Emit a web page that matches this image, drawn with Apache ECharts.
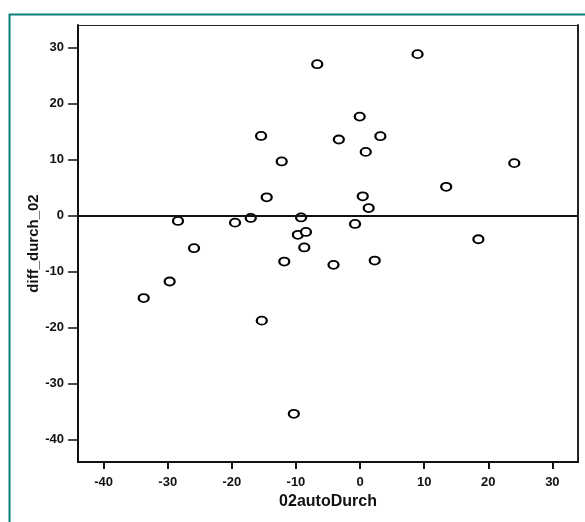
<!DOCTYPE html>
<html>
<head>
<meta charset="utf-8">
<script src="https://cdn.jsdelivr.net/npm/echarts@6/dist/echarts.min.js"></script>
<style>
html,body{margin:0;padding:0;background:#ffffff;}
#chart{width:585px;height:522px;}
</style>
</head>
<body>
<div id="chart"></div>
<script>
const autoDurch = [-33.75,-29.7,-28.4,-25.9,-19.5,-17.05,-15.44,-14.56,-15.33,-12.22,-11.82,-10.33,-9.2,-9.7,-8.44,-8.7,-6.68,-4.14,-3.31,-0.78,-0.05,0.42,0.89,1.35,2.29,3.17,8.97,13.44,18.46,24.06];
const diffDurch = [-14.74,-11.78,-0.98,-5.84,-1.28,-0.44,14.2,3.24,-18.77,9.64,-8.22,-35.4,-0.35,-3.45,-2.94,-5.7,27.0,-8.81,13.56,-1.51,17.65,3.42,11.35,1.33,-8.04,14.15,28.8,5.12,-4.24,9.34];
const xTicks = [-40,-30,-20,-10,0,10,20,30];
const yTicks = [-40,-30,-20,-10,0,10,20,30];
const xName = '02autoDurch';
const yName = 'diff_durch_02';

const points = autoDurch.map((x, i) => [x, diffDurch[i]]);
const font = 'Liberation Sans, Arial, sans-serif';
const chart = echarts.init(document.getElementById('chart'), null, {renderer: 'canvas'});
chart.setOption({
  animation: false,
  backgroundColor: '#ffffff',
  graphic: [{
    type: 'rect', left: 7, top: 12,
    shape: {width: 600, height: 540},
    style: {fill: 'none', stroke: '#0b807b', lineWidth: 2},
    silent: true
  }],
  grid: {left: 78, top: 25, right: 7, bottom: 60, containLabel: false},
  xAxis: [{
    type: 'value', min: -44, max: 34, position: 'bottom',
    name: xName, nameLocation: 'middle', nameGap: 32, nameMoveOverlap: false,
    nameTextStyle: {fontFamily: font, fontWeight: 'bold', fontSize: 16, color: '#111'},
    axisLine: {show: true, onZero: false, lineStyle: {color: '#111', width: 2}},
    axisTick: {show: true, length: 7, customValues: xTicks, lineStyle: {color: '#111', width: 2}},
    axisLabel: {customValues: xTicks, margin: 14, fontFamily: font, fontWeight: 'bold', fontSize: 13, color: '#111'},
    splitLine: {show: false}
  }, {
    type: 'value', min: -44, max: 34, position: 'top',
    axisLine: {show: true, onZero: false, lineStyle: {color: '#222', width: 1}},
    axisTick: {show: false}, axisLabel: {show: false}, splitLine: {show: false}
  }],
  yAxis: [{
    type: 'value', min: -44, max: 34, position: 'left',
    name: yName, nameLocation: 'middle', nameGap: 37, nameRotate: 90, nameMoveOverlap: false,
    nameTextStyle: {fontFamily: font, fontWeight: 'bold', fontSize: 15, color: '#111'},
    axisLine: {show: true, onZero: false, lineStyle: {color: '#111', width: 2}},
    axisTick: {show: true, length: 10, customValues: yTicks, lineStyle: {color: '#111', width: 1.5}},
    axisLabel: {customValues: yTicks, margin: 14, fontFamily: font, fontWeight: 'bold', fontSize: 13, color: '#111'},
    splitLine: {show: false}
  }, {
    type: 'value', min: -44, max: 34, position: 'right',
    axisLine: {show: true, onZero: false, lineStyle: {color: '#222', width: 2}},
    axisTick: {show: false}, axisLabel: {show: false}, splitLine: {show: false}
  }],
  series: [{
    type: 'scatter',
    data: points,
    symbol: 'circle',
    symbolSize: [10, 8],
    itemStyle: {color: '#ffffff', borderColor: '#000', borderWidth: 2, opacity: 1},
    markLine: {
      silent: true, symbol: 'none', label: {show: false},
      lineStyle: {color: '#111', width: 2, type: 'solid'},
      data: [{yAxis: 0}]
    }
  }]
});
</script>
</body>
</html>
